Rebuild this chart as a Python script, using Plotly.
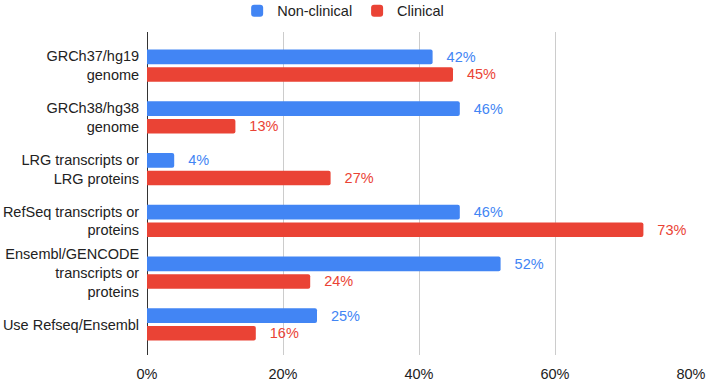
import plotly.graph_objects as go

categories = [
    "GRCh37/hg19<br>genome",
    "GRCh38/hg38<br>genome",
    "LRG transcripts or<br>LRG proteins",
    "RefSeq transcripts or<br>proteins",
    "Ensembl/GENCODE<br>transcripts or<br>proteins",
    "Use Refseq/Ensembl",
]
non_clinical = [0.42, 0.46, 0.04, 0.46, 0.52, 0.25]
clinical = [0.45, 0.13, 0.27, 0.73, 0.24, 0.16]
x_ticks = [0, 0.2, 0.4, 0.6, 0.8]
x_tick_labels = ["0%", "20%", "40%", "60%", "80%"]

BLUE = "#4285F4"
RED = "#EA4335"
FONT = "Liberation Sans, Arial, sans-serif"
FS = 14.5
PAD = "\u00a0\u00a0\u2009"

fig = go.Figure()
for name, vals, col in [("Non-clinical", non_clinical, BLUE), ("Clinical", clinical, RED)]:
    fig.add_trace(go.Bar(
        y=categories, x=vals, name=name, orientation="h",
        marker=dict(color=col, line=dict(width=0), cornerradius=2),
        text=[f"{PAD}{round(v*100)}%" for v in vals],
        textposition="outside", textfont=dict(color=col, size=FS, family=FONT),
        constraintext="none", cliponaxis=False,
    ))

fig.update_layout(
    width=709, height=382,
    margin=dict(l=147, r=18, t=32, b=27, autoexpand=False),
    paper_bgcolor="white", plot_bgcolor="white",
    barmode="group", bargap=0.32, bargroupgap=0.17,
    font=dict(family=FONT, size=FS, color="#222222"),
    legend=dict(orientation="h", xref="container", yref="paper",
                x=0.484, xanchor="center", y=1.115, yanchor="top",
                font=dict(size=FS, color="#222222"), traceorder="normal"),
    showlegend=True,
)
fig.update_xaxes(range=[0, 0.8], tickvals=x_ticks, ticktext=x_tick_labels,
                 showgrid=True, gridcolor="#cccccc", gridwidth=1,
                 zeroline=True, zerolinecolor="#333333", zerolinewidth=1,
                 ticks="outside", ticklen=6, tickcolor="rgba(0,0,0,0)",
                 tickfont=dict(size=FS, color="#222222"), automargin=False)
fig.update_yaxes(categoryorder="array", categoryarray=categories,
                 range=[5.59, -0.65], showgrid=False, zeroline=False,
                 ticks="outside", ticklen=4, tickcolor="rgba(0,0,0,0)",
                 tickfont=dict(size=FS, color="#222222"), automargin=False)

fig.write_html("out.html", config={"displayModeBar": False},
               post_script="document.body.style.margin='0';document.body.style.overflow='hidden';")
